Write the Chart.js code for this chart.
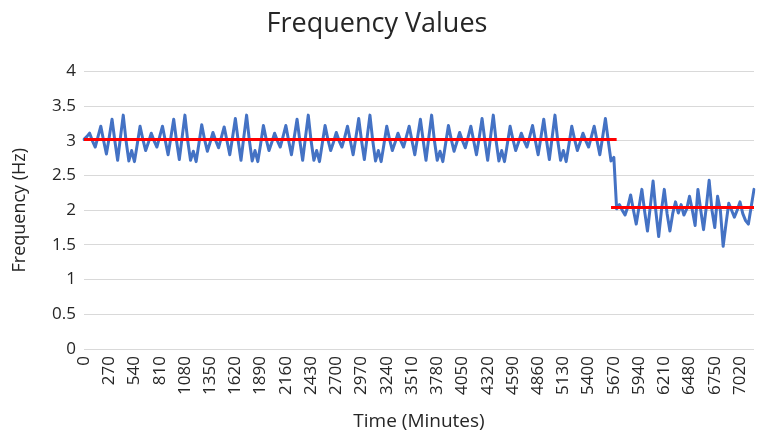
<!DOCTYPE html>
<html>
<head>
<meta charset="utf-8">
<script src="https://cdn.jsdelivr.net/npm/chart.js@4.4.1/dist/chart.umd.min.js"></script>
<style>
	body { margin: 0; background: #ffffff; }
	#frequencyChart { display: block; }
</style>
</head>
<body>
<canvas id="frequencyChart" width="757" height="433"></canvas>
<script>
// readings taken every 30 minutes
const timeStep = 30;
const labelEvery = 270;

// frequency readings (Hz)
const frequencyHz = [
	// 0 - 390
	3.02, 3.06, 3.11, 3.0, 2.91, 3.06, 3.21, 3.0, 2.81, 3.05, 3.31, 3.0, 2.72, 3.05,
	// 420 - 1050
	3.37, 3.0, 2.71, 2.86, 2.70, 2.95, 3.21, 3.02, 2.86, 2.98, 3.11, 3.0, 2.91, 3.06, 3.21, 3.0, 2.80, 3.05, 3.31, 3.0, 2.73, 3.05,
	// 1080 - 1710
	3.37, 3.0, 2.72, 2.85, 2.70, 2.96, 3.23, 3.02, 2.85, 2.98, 3.12, 3.0, 2.90, 3.05, 3.20, 3.0, 2.80, 3.05, 3.32, 3.0, 2.72, 3.05,
	// 1740 - 2370
	3.37, 3.0, 2.71, 2.86, 2.70, 2.95, 3.22, 3.02, 2.86, 2.98, 3.11, 3.0, 2.91, 3.06, 3.22, 3.0, 2.80, 3.05, 3.31, 3.0, 2.72, 3.05,
	// 2400 - 3030
	3.37, 3.0, 2.72, 2.86, 2.70, 2.96, 3.22, 3.02, 2.86, 2.98, 3.12, 3.0, 2.91, 3.05, 3.21, 3.0, 2.80, 3.05, 3.32, 3.0, 2.73, 3.05,
	// 3060 - 3690
	3.37, 3.0, 2.71, 2.86, 2.70, 2.95, 3.21, 3.02, 2.86, 2.98, 3.11, 3.0, 2.91, 3.06, 3.21, 3.0, 2.80, 3.05, 3.31, 3.0, 2.72, 3.05,
	// 3720 - 4350
	3.37, 3.0, 2.72, 2.85, 2.70, 2.96, 3.22, 3.02, 2.85, 2.98, 3.12, 3.0, 2.90, 3.05, 3.21, 3.0, 2.80, 3.05, 3.32, 3.0, 2.72, 3.05,
	// 4380 - 5010
	3.37, 3.0, 2.71, 2.86, 2.70, 2.95, 3.21, 3.02, 2.86, 2.98, 3.11, 3.0, 2.91, 3.06, 3.22, 3.0, 2.80, 3.05, 3.31, 3.0, 2.73, 3.05,
	// 5040 - 5670
	3.37, 3.0, 2.72, 2.86, 2.70, 2.95, 3.21, 3.02, 2.86, 2.98, 3.11, 3.0, 2.91, 3.06, 3.21, 3.0, 2.80, 3.05, 3.32, 3.0, 2.71, 2.76,
	// 5700 - 7170
	2.02, 2.08, 2.0, 1.93, 2.05, 2.22, 2.0, 1.8, 2.05, 2.3,
	1.98, 1.7, 2.05, 2.42, 1.98, 1.62, 2.0, 2.3, 1.95, 1.7,
	1.95, 2.12, 1.96, 2.08, 1.93, 2.02, 2.2, 2.0, 1.78, 2.3,
	2.0, 1.72, 2.05, 2.43, 2.0, 1.75, 2.2, 2.0, 1.48, 1.8,
	2.1, 2.0, 1.9, 2.0, 2.12, 1.95, 1.85, 1.8, 2.05, 2.3,
];

// average level before / after the step change
const meanBefore = 3.02;
const meanAfter = 2.04;
const beforeEnd = 190; // index where the first average line stops
const afterStart = 188; // index where the second one starts

const minutes = frequencyHz.map((v, i) => i * timeStep);
const meanBeforeLine = minutes.map((m, i) => (i <= beforeEnd ? meanBefore : null));
const meanAfterLine = minutes.map((m, i) => (i >= afterStart ? meanAfter : null));

const fontFamily = "'Open Sans', 'Liberation Sans', sans-serif";
const textColor = "#262626";
const gridColor = "#d9d9d9";

const frequencyChartCtx = document.getElementById("frequencyChart");

var frequencyChart = new Chart(frequencyChartCtx, {
	type: "line",
	data: {
		labels: minutes,
		datasets: [
			{
				label: "Average before",
				data: meanBeforeLine,
				borderColor: "#ff0000",
				borderWidth: 3,
				pointRadius: 0,
				order: 0,
			},
			{
				label: "Average after",
				data: meanAfterLine,
				borderColor: "#ff0000",
				borderWidth: 3,
				pointRadius: 0,
				order: 0,
			},
			{
				label: "Frequency",
				data: frequencyHz,
				borderColor: "#4472c4",
				borderWidth: 3,
				borderJoinStyle: "round",
				borderCapStyle: "round",
				pointRadius: 0,
				tension: 0,
				order: 1,
			},
		],
	},
	options: {
		responsive: false,
		animation: false,
		devicePixelRatio: 1,
		layout: {
			padding: { left: 0, right: 3, top: 0, bottom: 0 },
		},
		plugins: {
			legend: { display: false },
			tooltip: { enabled: false },
			title: {
				display: true,
				text: "Frequency Values",
				color: textColor,
				font: { family: fontFamily, size: 27, weight: "normal" },
				padding: { top: 8, bottom: 31 },
			},
		},
		scales: {
			x: {
				type: "category",
				offset: false,
				grid: { display: false, drawTicks: false },
				border: { display: false },
				ticks: {
					autoSkip: false,
					minRotation: 90,
					maxRotation: 90,
					padding: 7,
					color: textColor,
					font: { family: fontFamily, size: 17 },
					callback: function (value, index) {
						return minutes[index] % labelEvery === 0 ? String(minutes[index]) : null;
					},
				},
				title: {
					display: true,
					text: "Time (Minutes)",
					color: textColor,
					font: { family: fontFamily, size: 19 },
					padding: { top: 0, bottom: 0 },
				},
				afterFit: (scale) => {
					scale.height = 84;
					scale.paddingLeft = 0;
					scale.paddingRight = 0;
				},
			},
			y: {
				min: 0,
				max: 4,
				grid: { color: gridColor, lineWidth: 1, drawTicks: false },
				border: { display: false },
				ticks: {
					stepSize: 0.5,
					padding: 8,
					color: textColor,
					font: { family: fontFamily, size: 17 },
					callback: (value) => String(value),
				},
				title: {
					display: true,
					text: "Frequency (Hz)",
					color: textColor,
					font: { family: fontFamily, size: 18 },
					padding: { top: 9, bottom: 0 },
				},
				afterFit: (scale) => {
					scale.width = 84;
				},
			},
		},
	},
});
</script>
</body>
</html>
